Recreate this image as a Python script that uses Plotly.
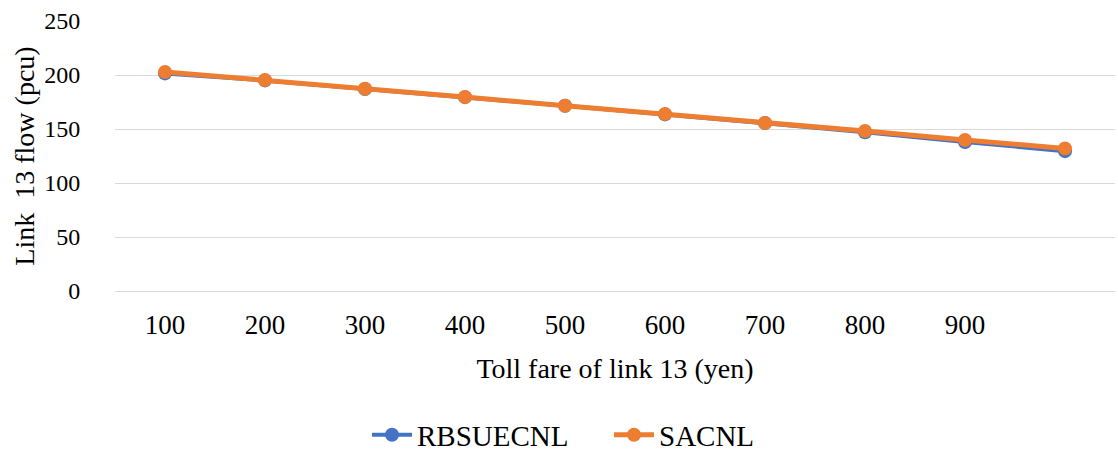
import plotly.graph_objects as go

toll_labels = ["100", "200", "300", "400", "500", "600", "700", "800", "900", ""]
positions = list(range(1, 11))
rbsuecnl = [201.5, 195.0, 187.0, 179.5, 171.5, 163.5, 155.5, 147.0, 138.0, 129.5]
sacnl = [202.8, 195.4, 187.2, 179.6, 171.5, 163.9, 155.6, 148.1, 139.8, 132.0]

font_family = "Liberation Serif"

fig = go.Figure()
fig.add_trace(go.Scatter(
    x=positions, y=rbsuecnl, name="RBSUECNL", mode="lines+markers",
    line=dict(color="#4472C4", width=4),
    marker=dict(color="#4472C4", size=14),
))
fig.add_trace(go.Scatter(
    x=positions, y=sacnl, name="SACNL", mode="lines+markers",
    line=dict(color="#ED7D31", width=5),
    marker=dict(color="#ED7D31", size=14),
))

fig.update_layout(
    width=1118, height=452,
    margin=dict(l=115, r=3, t=21, b=161, autoexpand=False),
    paper_bgcolor="white", plot_bgcolor="white",
    font=dict(family=font_family, size=27, color="black"),
    showlegend=True,
    legend=dict(orientation="h", x=0.252, xanchor="left", y=-0.533, yanchor="middle",
                font=dict(size=29), itemwidth=40, tracegroupgap=0,
                entrywidth=187, entrywidthmode="pixels"),
    xaxis=dict(
        range=[0.5, 10.5], tickmode="array", tickvals=positions, ticktext=toll_labels,
        showgrid=False, zeroline=False, showline=False, automargin=False,
        ticks="outside", ticklen=10, tickcolor="white", tickfont=dict(size=27),
        title=dict(text="Toll fare of link 13 (yen)", standoff=18, font=dict(size=28)),
    ),
    yaxis=dict(
        range=[0, 250], dtick=50, showgrid=True, gridcolor="#D9D9D9", gridwidth=1,
        zeroline=True, zerolinecolor="#D9D9D9", zerolinewidth=1, showline=False,
        automargin=False,
        ticks="outside", ticklen=29, tickcolor="white", tickfont=dict(size=24),
        title=dict(text="Link  13 flow (pcu)", standoff=1, font=dict(size=28)),
    ),
)

fig.write_html("out.html")
